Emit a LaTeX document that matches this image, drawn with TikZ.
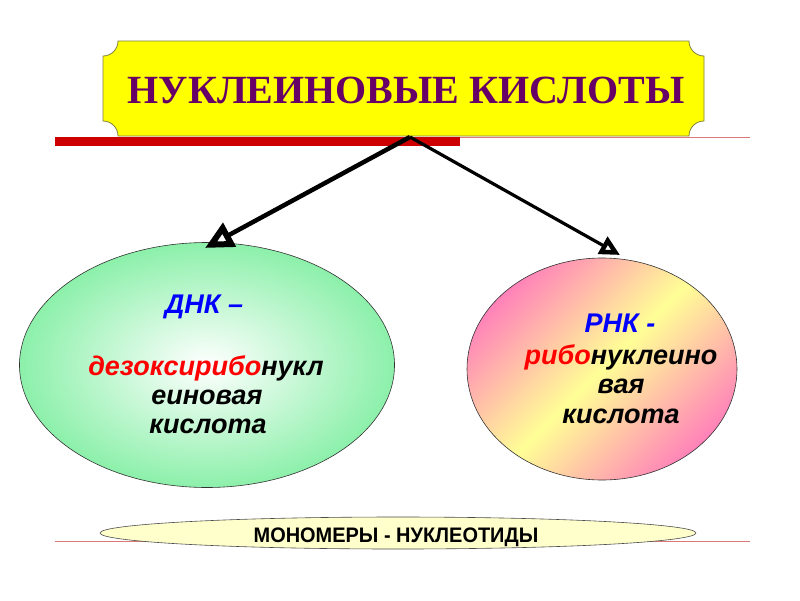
\documentclass[tikz,border=0pt]{standalone}
\usepackage{fontspec}
\setmainfont{Liberation Serif}
\newfontfamily\lsans{Liberation Sans}
\newfontfamily\lsansnarrow{Liberation Sans}[FakeStretch=0.95]
\usetikzlibrary{shapes.geometric,arrows.meta}
\definecolor{plaque}{RGB}{255,255,0}
\definecolor{plaqueline}{RGB}{128,128,64}
\definecolor{titlecol}{RGB}{102,0,102}
\definecolor{barred}{RGB}{204,0,0}
\definecolor{thinred}{RGB}{220,120,120}
\definecolor{greenout}{RGB}{140,240,170}
\definecolor{pinkc}{RGB}{255,130,185}
\definecolor{yellowc}{RGB}{255,255,150}
\definecolor{paleyellow}{RGB}{255,255,204}
\definecolor{bluetxt}{RGB}{0,0,255}
\definecolor{redtxt}{RGB}{255,0,0}
\tikzset{
  bigell/.style={ellipse,draw=black!80,line width=0.6pt,inner sep=0pt},
  elltext/.style={font=\lsans\bfseries\itshape\fontsize{27}{29}\selectfont,anchor=base,inner sep=0pt},
}
\begin{document}
\begin{tikzpicture}[x=1pt,y=-1pt]
\useasboundingbox[fill=white] (0,0) rectangle (800,600);
% lines under title
\draw[thinred,line width=0.8pt] (55,137) -- (750,137);
\fill[barred] (55,137) rectangle (460,145.5);
% plaque
\draw[plaqueline,line width=0.8pt,fill=plaque]
  (118,41) -- (689,41) .. controls (689,49.3) and (695.7,56) .. (704,56)
  -- (704,121) .. controls (695.7,121) and (689,127.7) .. (689,136)
  -- (118,136) .. controls (118,127.7) and (111.3,121) .. (103,121)
  -- (103,56) .. controls (111.3,56) and (118,49.3) .. (118,41) -- cycle;
\node[font=\bfseries\fontsize{40}{44}\selectfont,text=titlecol,inner sep=0pt,anchor=base] (title) at (406,103) {НУКЛЕИНОВЫЕ КИСЛОТЫ};
\coordinate (top) at (410,137);
% ellipses
\node[bigell,minimum width=375,minimum height=245,inner color=white,outer color=greenout] (dna) at (207,365) {};
\node[bigell,minimum width=270,minimum height=222,shading=axis,top color=pinkc,bottom color=pinkc,middle color=yellowc,shading angle=45] (rna) at (602,369) {};
% DNA text
\node[elltext,text=bluetxt] (d1) at (204,313) {ДНК –};
\node[elltext] (d2) at (206,375) {\textcolor{redtxt}{дезоксирибо}нукл};
\node[elltext] (d3) at (207,404) {еиновая};
\node[elltext] (d4) at (208,433) {кислота};
% RNA text
\node[elltext,text=bluetxt] (r1) at (620,332) {РНК -};
\node[elltext] (r2) at (621,364) {\textcolor{redtxt}{рибо}нуклеино};
\node[elltext] (r3) at (621,393) {вая};
\node[elltext] (r4) at (621,423) {кислота};
% arrows
\coordinate (ta) at (205,248);
\coordinate (tb) at (620,255);
\draw[line width=4.5pt,-{Triangle[fill=white,length=28pt,width=26pt,line width=6pt]}] (top) -- (ta);
\draw[line width=3.2pt,-{Triangle[fill=white,length=20pt,width=19pt,line width=4.5pt]}] (top) -- (tb);
% bottom
\draw[thinred,line width=0.8pt] (55,541) -- (750,541);
\node[ellipse,draw=black!70,line width=0.6pt,fill=paleyellow,minimum width=596,minimum height=32,inner sep=0pt] (mono) at (398,533) {};
\node[font=\lsansnarrow\bfseries\fontsize{21}{24}\selectfont,inner sep=0pt,anchor=base] (monotext) at (396,542) {МОНОМЕРЫ - НУКЛЕОТИДЫ};
\end{tikzpicture}
\end{document}
